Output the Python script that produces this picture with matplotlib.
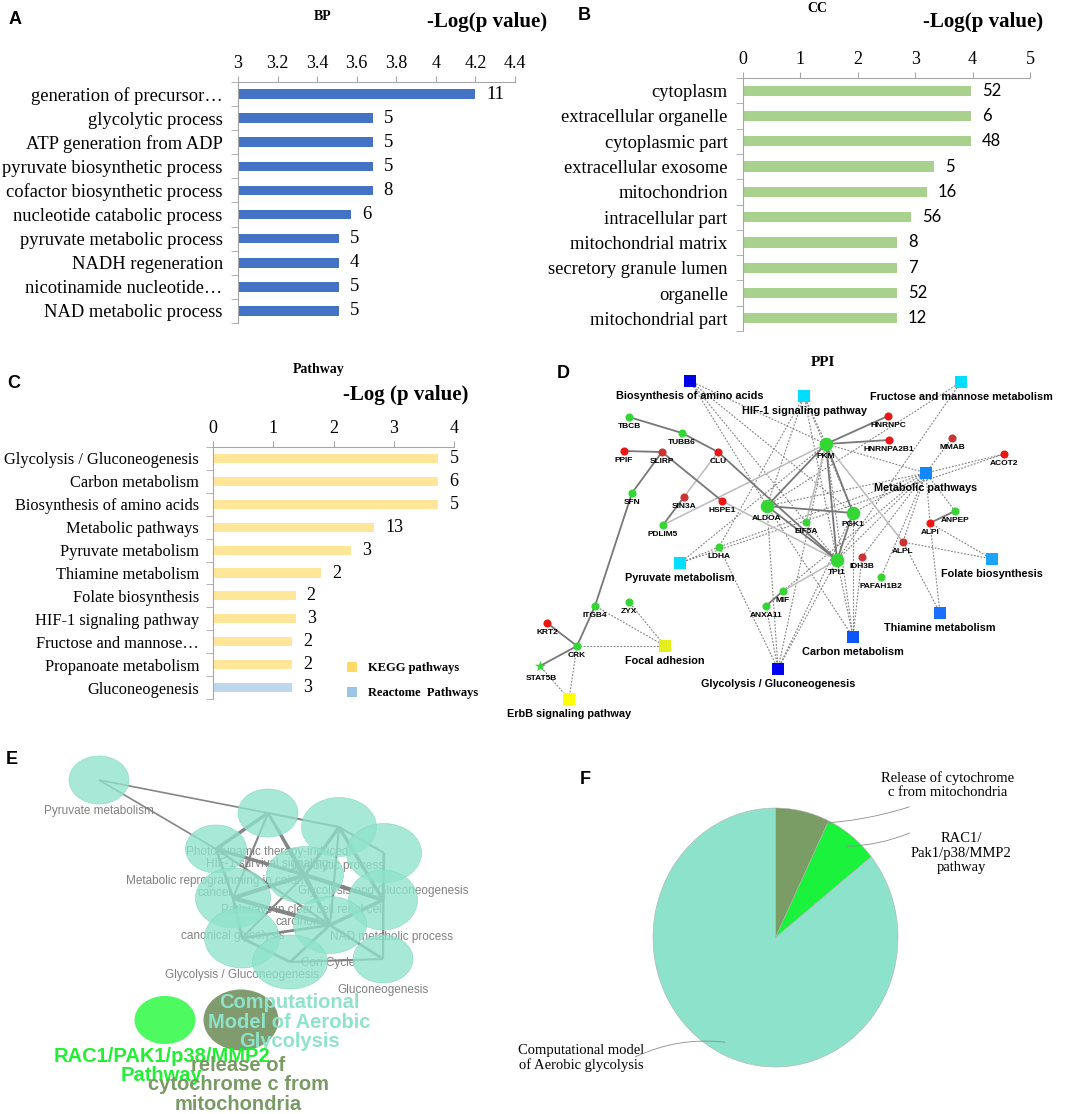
import numpy as np
import matplotlib.pyplot as plt
from matplotlib.patches import Ellipse

W, H = 1072, 1114
SERIF = 'Liberation Serif'
SANS = 'Liberation Sans'

# ---- A: GO biological process
bp_terms = ['generation of precursor…', 'glycolytic process', 'ATP generation from ADP',
            'pyruvate biosynthetic process', 'cofactor biosynthetic process',
            'nucleotide catabolic process', 'pyruvate metabolic process',
            'NADH regeneration', 'nicotinamide nucleotide…', 'NAD metabolic process']
bp_logp = [4.20, 3.68, 3.68, 3.68, 3.68, 3.57, 3.51, 3.51, 3.51, 3.51]
bp_counts = [11, 5, 5, 5, 8, 6, 5, 4, 5, 5]

# ---- B: GO cellular component
cc_terms = ['cytoplasm', 'extracellular organelle', 'cytoplasmic part', 'extracellular exosome',
            'mitochondrion', 'intracellular part', 'mitochondrial matrix',
            'secretory granule lumen', 'organelle', 'mitochondrial part']
cc_logp = [3.97, 3.97, 3.97, 3.33, 3.20, 2.93, 2.68, 2.68, 2.68, 2.68]
cc_counts = [52, 6, 48, 5, 16, 56, 8, 7, 52, 12]

# ---- C: pathways
pw_terms = ['Glycolysis / Gluconeogenesis', 'Carbon metabolism', 'Biosynthesis of amino acids',
            'Metabolic pathways', 'Pyruvate metabolism', 'Thiamine metabolism',
            'Folate biosynthesis', 'HIF-1 signaling pathway', 'Fructose and mannose…',
            'Propanoate metabolism', 'Gluconeogenesis']
pw_logp = [3.74, 3.74, 3.74, 2.68, 2.29, 1.79, 1.37, 1.37, 1.31, 1.31, 1.31]
pw_counts = [5, 6, 5, 13, 3, 2, 2, 3, 2, 2, 3]
pw_source = ['KEGG'] * 10 + ['Reactome']

# ---- D: PPI network (layout positions in pixels)
gene_names = ['TBCB', 'TUBB6', 'CLU', 'PPIF', 'SLIRP', 'SFN', 'SIN3A', 'HSPE1', 'PDLIM5',
              'ALDOA', 'EIF5A', 'PGK1', 'PKM', 'HNRNPC', 'HNRNPA2B1', 'MMAB', 'ACOT2',
              'ANPEP', 'ALPI', 'ALPL', 'IDH3B', 'TPI1', 'PAFAH1B2', 'LDHA', 'MIF', 'ANXA11',
              'ZYX', 'ITGB4', 'KRT2', 'CRK', 'STAT5B']
gene_x = [629, 682, 718, 624, 662, 632, 684, 722, 663, 767, 806, 853, 826, 888, 889, 952,
          1004, 955, 930, 903, 862, 837, 881, 719, 783, 766, 629, 595, 547, 577, 540]
gene_y = [417, 433, 452, 451, 452, 493, 497, 501, 525, 506, 522, 513, 444, 416, 440, 438,
          454, 511, 523, 542, 557, 560, 577, 547, 591, 606, 602, 606, 623, 646, 666]
gene_col = ['g', 'g', 'r', 'r', 'dr', 'g', 'dr', 'r', 'g', 'g', 'g', 'g', 'g', 'r', 'r', 'dr',
            'r', 'g', 'r', 'dr', 'dr', 'g', 'g', 'g', 'g', 'g', 'g', 'g', 'r', 'g', 'g']
gene_big = ['ALDOA', 'PGK1', 'PKM', 'TPI1']

path_names = ['Biosynthesis of amino acids', 'HIF-1 signaling pathway',
              'Fructose and mannose metabolism', 'Metabolic pathways', 'Pyruvate metabolism',
              'Folate biosynthesis', 'Thiamine metabolism', 'Carbon metabolism',
              'Glycolysis / Gluconeogenesis', 'Focal adhesion', 'ErbB signaling pathway']
path_x = [690, 804, 961, 926, 680, 992, 940, 853, 778, 665, 569]
path_y = [381, 396, 382, 473, 563, 559, 613, 637, 669, 646, 699]
path_col = ['#0000E6', '#00DDFF', '#00DDFF', '#1188FF', '#00DDFF', '#1AA3FF', '#1A70FF',
            '#0A55FF', '#0000EE', '#E4EE1A', '#FFFF00']

ppi_edges = [('TBCB', 'TUBB6'), ('TUBB6', 'CLU'), ('PPIF', 'SLIRP'), ('SLIRP', 'HSPE1'),
             ('SLIRP', 'SFN'), ('SFN', 'ITGB4'), ('ITGB4', 'CRK'), ('KRT2', 'CRK'),
             ('CRK', 'STAT5B'), ('SIN3A', 'PDLIM5'), ('PKM', 'HNRNPC'), ('PKM', 'HNRNPA2B1'),
             ('PKM', 'ALDOA'), ('PKM', 'PGK1'), ('PKM', 'TPI1'), ('ALDOA', 'PGK1'),
             ('ALDOA', 'TPI1'), ('PGK1', 'TPI1'), ('CLU', 'TPI1'), ('ANPEP', 'ALPI'),
             ('ANXA11', 'MIF')]
ppi_light = [('CLU', 'SIN3A'), ('PDLIM5', 'PKM'), ('HSPE1', 'TPI1'), ('PKM', 'ALPL'),
             ('PKM', 'EIF5A'), ('MIF', 'TPI1')]
pathway_links = {
    'Biosynthesis of amino acids': ['ALDOA', 'PKM', 'PGK1', 'TPI1'],
    'HIF-1 signaling pathway': ['PKM', 'ALDOA', 'LDHA', 'PGK1', 'TPI1'],
    'Fructose and mannose metabolism': ['ALDOA', 'TPI1'],
    'Metabolic pathways': ['PKM', 'ALDOA', 'PGK1', 'TPI1', 'LDHA', 'IDH3B', 'ALPL', 'ALPI',
                           'MMAB', 'ACOT2', 'PAFAH1B2', 'ANPEP', 'MIF'],
    'Pyruvate metabolism': ['LDHA', 'PKM', 'ACOT2'],
    'Folate biosynthesis': ['ALPI', 'ALPL'],
    'Thiamine metabolism': ['ALPI', 'ALPL'],
    'Carbon metabolism': ['PKM', 'ALDOA', 'PGK1', 'TPI1', 'IDH3B'],
    'Glycolysis / Gluconeogenesis': ['PKM', 'ALDOA', 'PGK1', 'TPI1', 'LDHA', 'ANXA11'],
    'Focal adhesion': ['ITGB4', 'ZYX', 'CRK'],
    'ErbB signaling pathway': ['CRK', 'STAT5B'],
}

# ---- E: enrichment map clusters (pixel layout)
e_x = [99, 268, 339, 384, 216, 305, 233, 383, 330, 242, 290, 383]
e_y = [780, 813, 827, 853, 849, 875, 898, 900, 925, 938, 962, 959]
e_w = [60, 60, 75, 75, 61, 77, 75, 69, 73, 75, 75, 60]
e_h = [48, 48, 59, 59, 48, 57, 60, 60, 57, 60, 54, 48]
e_edges = [(0, 1, 1.2), (0, 4, 1.2), (1, 4, 2.5), (1, 5, 2.0), (1, 2, 1.5), (1, 6, 1.5),
           (4, 5, 2.5), (4, 6, 2.0), (4, 8, 1.5), (2, 5, 2.5), (2, 3, 1.5), (2, 7, 2.5),
           (3, 7, 2.0), (3, 11, 1.5), (5, 6, 3.0), (5, 7, 3.0), (5, 8, 2.5), (6, 8, 3.0),
           (6, 9, 2.0), (7, 8, 2.5), (7, 11, 1.5), (8, 9, 2.0), (8, 10, 2.0), (9, 10, 2.0),
           (10, 11, 1.5), (8, 11, 2.0), (5, 9, 1.5), (2, 8, 1.5), (1, 8, 1.5)]
e_labels = ['Pyruvate metabolism', 'Photodynamic therapy-induced\nHIF-1 survival signaling',
            'glycolytic process', 'Metabolic reprogramming in colon\ncancer',
            'Glycolysis and Gluconeogenesis', 'Pathways in clear cell renal cell\ncarcinoma',
            'canonical glycolysis', 'NAD metabolic process', 'Cori Cycle',
            'Glycolysis / Gluconeogenesis', 'Gluconeogenesis']
e_lab_x = [99, 267, 338, 215, 383, 303, 233, 391, 328, 242, 383]
e_lab_y = [811, 858, 866, 887, 891, 916, 936, 937, 963, 975, 990]
e_small_x = [165, 241]
e_small_y = [1020, 1020]
e_small_w = [61, 75]
e_small_h = [48, 61]
e_small_col = ['#4DFA5F', '#809B6E']

# ---- F: pie
pie_labels = ['Release of cytochrome\nc from mitochondria', 'RAC1/\nPak1/p38/MMP2\npathway',
              'Computational model\nof Aerobic glycolysis']
pie_values = [1, 1, 12]
pie_colors = ['#7A9C65', '#1AF23C', '#8CE2CB']

fig = plt.figure(figsize=(W / 100, H / 100), dpi=100)


def px_axes(x0, y0, x1, y1, **kw):
    return fig.add_axes([x0 / W, 1 - y1 / H, (x1 - x0) / W, (y1 - y0) / H], **kw)


# overlay in pixel coordinates for networks and text
ax0 = px_axes(0, 0, W, H)
ax0.set_xlim(0, W)
ax0.set_ylim(H, 0)
ax0.axis('off')


def bar_panel(ax, terms, vals, counts, colors, xmin, xmax, xticks, xticklabels, cfont, lsize,
              lpad=11):
    y = np.arange(len(terms))
    ax.barh(y, np.array(vals) - xmin, left=xmin, height=0.4, color=colors)
    ax.set_xlim(xmin, xmax)
    ax.set_ylim(len(terms) - 0.5, -0.5)
    ax.set_facecolor('none')
    ax.xaxis.tick_top()
    ax.set_xticks(xticks)
    ax.set_xticklabels(xticklabels, fontfamily=SERIF, fontsize=13)
    ax.tick_params(axis='x', direction='out', length=4, color='#A6A6A6', pad=3)
    ax.set_yticks(y)
    ax.set_yticklabels(terms, fontfamily=SERIF, fontsize=lsize)
    ax.set_yticks(np.arange(len(terms) + 1) - 0.5, minor=True)
    ax.tick_params(axis='y', which='major', length=0, pad=lpad)
    ax.tick_params(axis='y', which='minor', length=5, color='#A6A6A6')
    for s in ['right', 'bottom']:
        ax.spines[s].set_visible(False)
    for s in ['top', 'left']:
        ax.spines[s].set_color('#A6A6A6')
    for yi, v, c in zip(y, vals, counts):
        ax.annotate(str(c), (v, yi), xytext=(8, 0), textcoords='offset points',
                    va='center', ha='left', **cfont)


# A
axA = px_axes(238, 82, 515, 323)
bar_panel(axA, bp_terms, bp_logp, bp_counts, '#4472C4', 3, 4.4,
          [3, 3.2, 3.4, 3.6, 3.8, 4, 4.2, 4.4],
          ['3', '3.2', '3.4', '3.6', '3.8', '4', '4.2', '4.4'],
          dict(fontfamily=SERIF, fontsize=13.5), 13.3)
ax0.text(323, 16, 'BP', ha='center', va='center', fontfamily=SERIF, fontweight='bold', fontsize=10)
ax0.text(487, 22, '-Log(p value)', ha='center', va='center', fontfamily=SERIF,
         fontweight='bold', fontsize=15)

# B
axB = px_axes(743, 78, 1030, 331)
bar_panel(axB, cc_terms, cc_logp, cc_counts, '#A9D18E', 0, 5, range(6),
          [str(i) for i in range(6)], dict(fontfamily='Lato', fontsize=12), 13.3)
ax0.text(817, 9, 'CC', ha='center', va='center', fontfamily=SERIF, fontweight='bold', fontsize=10)
ax0.text(983, 22, '-Log(p value)', ha='center', va='center', fontfamily=SERIF,
         fontweight='bold', fontsize=15)

# C
axC = px_axes(213, 447, 454, 699)
src_col = {'KEGG': '#FFE699', 'Reactome': '#BDD7EE'}
bar_panel(axC, pw_terms, pw_logp, pw_counts, [src_col[s] for s in pw_source], 0, 4,
          range(5), [str(i) for i in range(5)], dict(fontfamily=SERIF, fontsize=13), 11.8,
          lpad=10)
ax0.text(319, 369, 'Pathway', ha='center', va='center', fontfamily=SERIF, fontweight='bold',
         fontsize=10)
ax0.text(406, 395, '-Log (p value)', ha='center', va='center', fontfamily=SERIF,
         fontweight='bold', fontsize=15)
for name, col, yy in [('KEGG pathways', '#FFD966', 667), ('Reactome  Pathways', '#9DC3E6', 692)]:
    ax0.scatter([352], [yy], marker='s', s=60, color=col, linewidths=0)
    ax0.text(368, yy + 1, name, ha='left', va='center', fontfamily=SERIF, fontweight='bold',
             fontsize=9)

# D: PPI network
pos = {n: (x, y) for n, x, y in zip(gene_names, gene_x, gene_y)}
ppos = {n: (x, y) for n, x, y in zip(path_names, path_x, path_y)}
for p, genes in pathway_links.items():
    for g in genes:
        ax0.plot([ppos[p][0], pos[g][0]], [ppos[p][1], pos[g][1]], color='#808080', lw=0.8,
                 ls=(0, (1.6, 1.4)), zorder=1)
for a, b in ppi_light:
    ax0.plot([pos[a][0], pos[b][0]], [pos[a][1], pos[b][1]], color='#BBBBBB', lw=1.1, zorder=1)
for a, b in ppi_edges:
    ax0.plot([pos[a][0], pos[b][0]], [pos[a][1], pos[b][1]], color='#777777', lw=1.3, zorder=1)
cmap = {'g': '#33D633', 'r': '#EE1515', 'dr': '#CC3333'}
for n, x, y, c in zip(gene_names, gene_x, gene_y, gene_col):
    big = n in gene_big
    if n == 'STAT5B':
        ax0.scatter([x], [y], marker='*', s=70, color=cmap[c], zorder=3, linewidths=0)
        ax0.text(x + 1, y + 13, n, ha='center', va='center', fontfamily=SANS, fontweight='bold',
                 fontsize=6, zorder=4)
        continue
    ax0.scatter([x], [y], s=95 if big else 34, color=cmap[c], zorder=3, linewidths=0)
    ax0.text(x, y + (12 if big else 9.5), n, ha='center', va='center', fontfamily=SANS,
             fontweight='bold', fontsize=6, zorder=4)
for n, x, y, c in zip(path_names, path_x, path_y, path_col):
    ax0.scatter([x], [y], marker='s', s=85, color=c, zorder=3, linewidths=0)
    ax0.text(x, y + 15, n, ha='center', va='center', fontfamily=SANS, fontweight='bold',
             fontsize=7.8, zorder=4)
ax0.text(823, 362, 'PPI', ha='center', va='center', fontfamily=SERIF, fontweight='bold',
         fontsize=11)

# E: enrichment map
for a, b, lw in e_edges:
    ax0.plot([e_x[a], e_x[b]], [e_y[a], e_y[b]], color='#858585', lw=lw, zorder=1,
             solid_capstyle='butt')
for t, x, y in zip(e_labels, e_lab_x, e_lab_y):
    ax0.text(x, y, t, ha='center', va='center', fontfamily=SANS, fontsize=8.5, color='#808080',
             linespacing=1.05, zorder=2)
for x, y, w, h in zip(e_x, e_y, e_w, e_h):
    ax0.add_patch(Ellipse((x, y), w, h, facecolor='#8FE3CB', edgecolor='#80D8BE', lw=0.5,
                          alpha=0.78, zorder=3))
for x, y, w, h, c in zip(e_small_x, e_small_y, e_small_w, e_small_h, e_small_col):
    ax0.add_patch(Ellipse((x, y), w, h, facecolor=c, edgecolor='none', zorder=3))
ax0.text(289, 1022, 'Computational\nModel of Aerobic\nGlycolysis', ha='center', va='center',
         fontfamily=SANS, fontweight='bold', fontsize=14.5, color='#8FE3CB', linespacing=1.05,
         zorder=4)
ax0.text(162, 1066, 'RAC1/PAK1/p38/MMP2\nPathway', ha='center', va='center', fontfamily=SANS,
         fontweight='bold', fontsize=14.5, color='#22EE33', linespacing=1.05, zorder=4)
ax0.text(238, 1085, 'release of\ncytochrome c from\nmitochondria', ha='center', va='center',
         fontfamily=SANS, fontweight='bold', fontsize=14.5, color='#789A64', linespacing=1.05,
         zorder=4)

# F: pie
axF = px_axes(653, 808, 898, 1067)
wedges, _ = axF.pie(pie_values, colors=pie_colors, startangle=90, counterclock=False,
                    wedgeprops=dict(edgecolor='#B0B0B0', linewidth=0.4))
axF.set_aspect('auto')
axF.set_xlim(-1, 1)
axF.set_ylim(-1, 1)
axF.set_facecolor('none')
lab_pos = [(948, 785), (961, 853), (581, 1058)]
line_end = [(912, 806), (912, 832), (633, 1058)]
rads = [-0.08, -0.1, -0.15]
for wdg, t, (tx, ty), (lx, ly), r in zip(wedges, pie_labels, lab_pos, line_end, rads):
    mid = np.deg2rad((wdg.theta1 + wdg.theta2) / 2)
    start = (0.9 * np.cos(mid), 0.9 * np.sin(mid))
    axF.annotate('', xy=start, xytext=(lx, ly), textcoords=ax0.transData,
                 arrowprops=dict(arrowstyle='-', color='#8C8C8C', lw=0.6,
                                 connectionstyle=f'arc3,rad={r}'))
    ax0.text(tx, ty, t, ha='center', va='center', fontfamily=SERIF, fontsize=10.5,
             linespacing=1.15)

# panel letters
for letter, x, y in [('A', 15, 20), ('B', 584, 16), ('C', 14, 384), ('D', 563, 373),
                     ('E', 12, 760), ('F', 585, 779)]:
    ax0.text(x, y, letter, ha='center', va='center', fontfamily=SANS, fontweight='bold',
             fontsize=13)

fig.savefig('out.png', dpi=100)
